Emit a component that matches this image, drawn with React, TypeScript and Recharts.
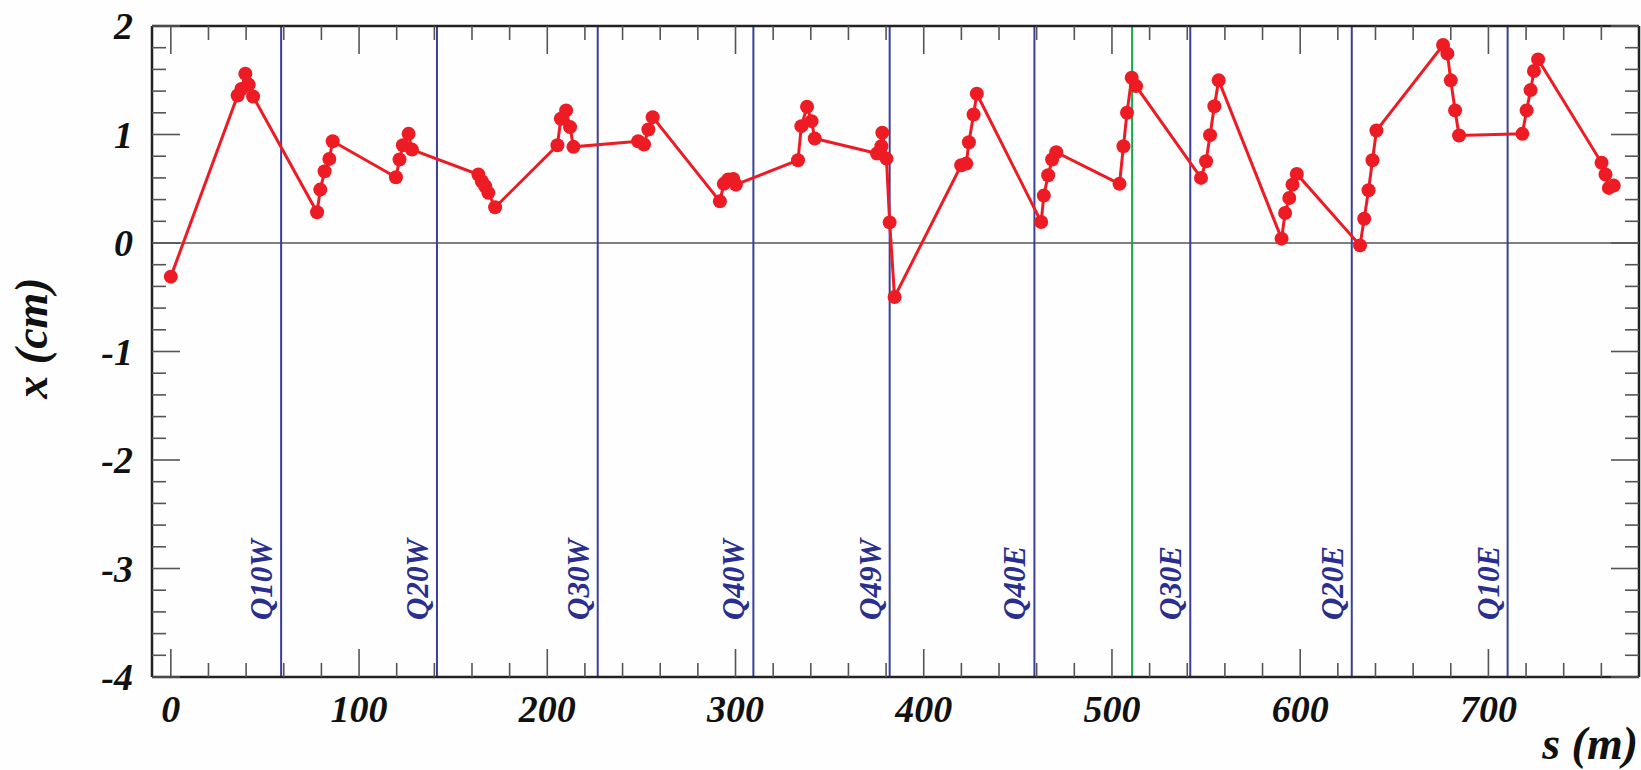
import React from 'react';
import { ComposedChart, Line, XAxis, YAxis, ReferenceLine } from 'recharts';

// beam position s (m)
const sPos = [
  0, 35.5, 37.5, 39.6, 41.4, 43.7,
  77.7, 79.4, 81.7, 84.2, 86.0,
  119.6, 121.5, 123.3, 126.3, 128.1,
  163.4, 165.2, 167.0, 168.7, 172.3,
  205.4, 207.2, 210.0, 212.1, 213.9,
  248.3, 251.4, 253.7, 256.0,
  291.7, 293.8, 296.1, 298.8, 300.2,
  333.2, 335.0, 338.0, 340.4, 342.1,
  375.2, 377.5, 378.0, 380.2, 381.9, 384.5,
  419.9, 422.6, 424.0, 426.5, 428.2,
  462.4, 463.8, 466.1, 468.2, 470.4,
  504.0, 506.1, 508.0, 510.5, 512.8,
  547.3, 550.0, 552.1, 554.4, 556.7,
  590.1, 592.0, 594.2, 595.9, 598.2,
  631.8, 634.0, 636.3, 638.4, 640.5,
  675.9, 678.2, 680.0, 682.3, 684.4,
  718.0, 720.3, 722.4, 724.2, 726.4,
  760.1, 762.2, 764.0, 766.6,
];

// horizontal orbit x (cm)
const xOrbit = [
  -0.31, 1.36, 1.42, 1.56, 1.46, 1.35,
  0.283, 0.492, 0.661, 0.775, 0.938,
  0.606, 0.769, 0.901, 1.006, 0.861,
  0.631, 0.569, 0.523, 0.462, 0.329,
  0.901, 1.145, 1.222, 1.068, 0.886,
  0.938, 0.908, 1.046, 1.16,
  0.384, 0.545, 0.585, 0.591, 0.538,
  0.763, 1.077, 1.256, 1.123, 0.963,
  0.825, 0.892, 1.016, 0.778, 0.19, -0.498,
  0.717, 0.732, 0.929, 1.185, 1.376,
  0.194, 0.437, 0.624, 0.769, 0.837,
  0.545, 0.892, 1.2, 1.523, 1.446,
  0.6, 0.753, 0.994, 1.261, 1.499,
  0.04, 0.277, 0.415, 0.538, 0.637,
  -0.022, 0.224, 0.486, 0.763, 1.037,
  1.825, 1.745, 1.499, 1.222, 0.991,
  1.006, 1.222, 1.409, 1.585, 1.692,
  0.739, 0.631, 0.508, 0.529,
];

const magnetS = [58.6, 141.4, 226.8, 309.5, 381.9, 458.8, 541.6, 627.4, 710.2];
const magnetNames = ['Q10W', 'Q20W', 'Q30W', 'Q40W', 'Q49W', 'Q40E', 'Q30E', 'Q20E', 'Q10E'];
const ipS = [510.7];

const xTicks = [0, 20, 40, 60, 80, 100, 120, 140, 160, 180, 200, 220, 240, 260, 280, 300, 320, 340, 360, 380, 400, 420, 440, 460, 480, 500, 520, 540, 560, 580, 600, 620, 640, 660, 680, 700, 720, 740, 760];
const xLabelTicks = [0, 100, 200, 300, 400, 500, 600, 700];
const yTicks = [-4, -3.8, -3.6, -3.4, -3.2, -3, -2.8, -2.6, -2.4, -2.2, -2, -1.8, -1.6, -1.4, -1.2, -1, -0.8, -0.6, -0.4, -0.2, 0, 0.2, 0.4, 0.6, 0.8, 1, 1.2, 1.4, 1.6, 1.8, 2];
const yLabelTicks = [-4, -3, -2, -1, 0, 1, 2];

const data = sPos.map((s, i) => ({ s, x: xOrbit[i] }));

const FONT = '"Liberation Serif", "Times New Roman", serif';
const TICK_COLOR = '#555';
const FRAME = '#222';
const MAJ = 28;
const MIN = 14;

const isMajorX = (v: number) => xLabelTicks.includes(v);
const isMajorY = (v: number) => yLabelTicks.some((t) => Math.abs(t - v) < 1e-6);

const BottomTick = (props: any) => {
  const { x, y, payload } = props;
  const v = payload.value;
  const major = isMajorX(v);
  return (
    <g>
      <line x1={x} x2={x} y1={y} y2={y - (major ? MAJ : MIN)} stroke={TICK_COLOR} strokeWidth={1.6} />
      {major && (
        <text x={x} y={y + 45} textAnchor="middle" fontFamily={FONT} fontStyle="italic" fontWeight="bold" fontSize={38} fill="#111">
          {v}
        </text>
      )}
    </g>
  );
};

const TopTick = (props: any) => {
  const { x, y, payload } = props;
  const major = isMajorX(payload.value);
  return <line x1={x} x2={x} y1={y} y2={y + (major ? MAJ : MIN)} stroke={TICK_COLOR} strokeWidth={1.6} />;
};

const LeftTick = (props: any) => {
  const { x, y, payload } = props;
  const v = payload.value;
  const major = isMajorY(v);
  return (
    <g>
      <line x1={x} x2={x + (major ? MAJ : MIN)} y1={y} y2={y} stroke={TICK_COLOR} strokeWidth={1.6} />
      {major && (
        <text x={x - 19} y={y + 13} textAnchor="end" fontFamily={FONT} fontStyle="italic" fontWeight="bold" fontSize={38} fill="#111">
          {Math.round(v)}
        </text>
      )}
    </g>
  );
};

const RightTick = (props: any) => {
  const { x, y, payload } = props;
  const major = isMajorY(payload.value);
  return <line x1={x} x2={x - (major ? MAJ : MIN)} y1={y} y2={y} stroke={TICK_COLOR} strokeWidth={1.6} />;
};

const makeMagnetLabel = (name: string) => (props: any) => {
  const vb = props.viewBox || {};
  const tx = vb.x - 9;
  const ty = vb.y + vb.height - 57;
  return (
    <text
      x={tx}
      y={ty}
      transform={`rotate(-90, ${tx}, ${ty})`}
      textAnchor="start"
      fontFamily={FONT}
      fontStyle="italic"
      fontWeight="bold"
      fontSize={31}
      fill="#2a2f8f"
    >
      {name}
    </text>
  );
};

const yTitle = (props: any) => {
  const vb = props.viewBox || {};
  const tx = vb.x + 47;
  const ty = vb.y + 312;
  return (
    <text x={tx} y={ty} transform={`rotate(-90, ${tx}, ${ty})`} textAnchor="middle" fontFamily={FONT} fontStyle="italic" fontWeight="bold" fontSize={46} fill="#111">
      x (cm)
    </text>
  );
};

const xTitle = (props: any) => {
  const vb = props.viewBox || {};
  return (
    <text x={vb.x + vb.width - 1} y={vb.y + 82} textAnchor="end" fontFamily={FONT} fontStyle="italic" fontWeight="bold" fontSize={46} fill="#111">
      s (m)
    </text>
  );
};

export default function App() {
  return (
    <div style={{ position: 'absolute', left: 0, top: 0, width: 1641, height: 770, background: '#fdfefd' }}>
      <ComposedChart width={1641} height={770} data={data} margin={{ top: 0, right: 0, bottom: 0, left: 0 }}>
        <XAxis
          xAxisId="b"
          dataKey="s"
          type="number"
          domain={[-10, 780]}
          ticks={xTicks}
          interval={0}
          orientation="bottom"
          height={93}
          tickSize={0}
          tickMargin={0}
          tick={<BottomTick />}
          tickLine={false}
          axisLine={{ stroke: FRAME, strokeWidth: 2.5 }}
          allowDataOverflow
          label={{ content: xTitle }}
        />
        <XAxis
          xAxisId="t"
          dataKey="s"
          type="number"
          domain={[-10, 780]}
          ticks={xTicks}
          interval={0}
          orientation="top"
          height={26}
          tickSize={0}
          tickMargin={0}
          tick={<TopTick />}
          tickLine={false}
          axisLine={{ stroke: FRAME, strokeWidth: 2.5 }}
          allowDataOverflow
        />
        <YAxis
          yAxisId="l"
          type="number"
          domain={[-4, 2]}
          ticks={yTicks}
          interval={0}
          orientation="left"
          width={152}
          tickSize={0}
          tickMargin={0}
          tick={<LeftTick />}
          tickLine={false}
          axisLine={{ stroke: FRAME, strokeWidth: 2.5 }}
          allowDataOverflow
          label={{ content: yTitle }}
        />
        <YAxis
          yAxisId="r"
          type="number"
          domain={[-4, 2]}
          ticks={yTicks}
          interval={0}
          orientation="right"
          width={2}
          tickSize={0}
          tickMargin={0}
          tick={<RightTick />}
          tickLine={false}
          axisLine={{ stroke: FRAME, strokeWidth: 2.5 }}
          allowDataOverflow
        />
        <ReferenceLine xAxisId="b" yAxisId="l" y={0} stroke="#555" strokeWidth={1.5} />
        {magnetS.map((s, i) => (
          <ReferenceLine
            key={magnetNames[i]}
            xAxisId="b"
            yAxisId="l"
            x={s}
            stroke="#3a3f9c"
            strokeWidth={2}
            label={makeMagnetLabel(magnetNames[i])}
          />
        ))}
        {ipS.map((s) => (
          <ReferenceLine key={`ip${s}`} xAxisId="b" yAxisId="l" x={s} stroke="#17a84b" strokeWidth={2} />
        ))}
        <Line
          xAxisId="b"
          yAxisId="l"
          type="linear"
          dataKey="x"
          stroke="#ed1c24"
          strokeWidth={3}
          dot={{ r: 7, fill: '#ed1c24', stroke: 'none' }}
          activeDot={false}
          isAnimationActive={false}
        />
      </ComposedChart>
    </div>
  );
}
